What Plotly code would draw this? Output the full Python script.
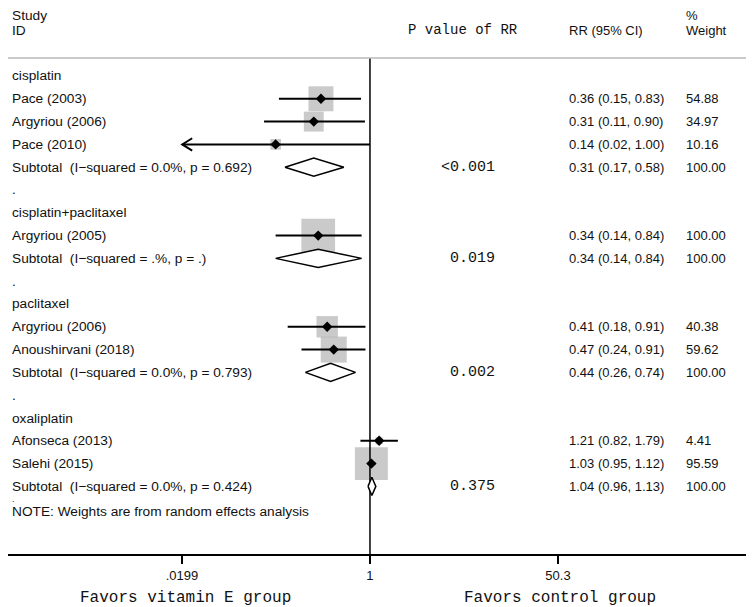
import math
import plotly.graph_objects as go

# rows of the forest plot, top to bottom
labels = ["cisplatin", "Pace (2003)", "Argyriou (2006)", "Pace (2010)",
          "Subtotal  (I\u2212squared = 0.0%, p = 0.692)", ".",
          "cisplatin+paclitaxel", "Argyriou (2005)",
          "Subtotal  (I\u2212squared = .%, p = .)", ".",
          "paclitaxel", "Argyriou (2006)", "Anoushirvani (2018)",
          "Subtotal  (I\u2212squared = 0.0%, p = 0.793)", ".",
          "oxaliplatin", "Afonseca (2013)", "Salehi (2015)",
          "Subtotal  (I\u2212squared = 0.0%, p = 0.424)"]
kind = ["group", "study", "study", "study", "sub", "blank",
        "group", "study", "sub", "blank",
        "group", "study", "study", "sub", "blank",
        "group", "study", "study", "sub"]
rr = [None, 0.36, 0.31, 0.14, 0.31, None, None, 0.34, 0.34, None,
      None, 0.41, 0.47, 0.44, None, None, 1.21, 1.03, 1.04]
lo = [None, 0.15, 0.11, 0.02, 0.17, None, None, 0.14, 0.14, None,
      None, 0.18, 0.24, 0.26, None, None, 0.82, 0.95, 0.96]
hi = [None, 0.83, 0.90, 1.00, 0.58, None, None, 0.84, 0.84, None,
      None, 0.91, 0.91, 0.74, None, None, 1.79, 1.12, 1.13]
weight = [None, 54.88, 34.97, 10.16, 100.00, None, None, 100.00, 100.00, None,
          None, 40.38, 59.62, 100.00, None, None, 4.41, 95.59, 100.00]
pval = {4: "<0.001", 8: "0.019", 13: "0.002", 18: "0.375"}
clipped = [3]  # CI runs past the left end of the scale
tick_vals = [0.0199, 1, 50.3]
tick_text = [".0199", "1", "50.3"]
note = "NOTE: Weights are from random effects analysis"

W, H = 754, 607
OFF = 8  # page body margin
sans = "Liberation Sans"
mono = "Liberation Mono"
TXT = "#111111"

fig = go.Figure()

studies = [i for i, k in enumerate(kind) if k == "study"]
subs = [i for i, k in enumerate(kind) if k == "sub"]

# weight boxes
fig.add_trace(go.Scatter(
    x=[rr[i] for i in studies], y=studies, mode="markers",
    marker=dict(symbol="square", color="#b4b4b4",
                size=[3.37 * math.sqrt(weight[i]) for i in studies],
                line=dict(width=0)),
    hoverinfo="skip"))

# null line
fig.add_trace(go.Scatter(x=[1, 1], y=[-0.79, 30], mode="lines",
                         line=dict(color="black", width=1.5), hoverinfo="skip"))

# CI lines
cx, cy = [], []
for i in studies:
    cx += [lo[i], hi[i], None]
    cy += [i, i, None]
for i in clipped:
    tip = lo[i]
    cx += [tip * 10 ** 0.09, tip, tip * 10 ** 0.09, None]
    cy += [i - 0.27, i, i + 0.27, None]
fig.add_trace(go.Scatter(x=cx, y=cy, mode="lines",
                         line=dict(color="black", width=2), hoverinfo="skip"))

# point estimates
fig.add_trace(go.Scatter(
    x=[rr[i] for i in studies], y=studies, mode="markers",
    marker=dict(symbol="diamond", color="black", size=8), hoverinfo="skip"))

# subtotal diamonds
for i in subs:
    fig.add_trace(go.Scatter(
        x=[lo[i], rr[i], hi[i], rr[i], lo[i]],
        y=[i, i - 0.4, i, i + 0.4, i],
        mode="lines", fill="toself", fillcolor="white",
        line=dict(color="black", width=1.5), hoverinfo="skip"))

ann = []


def put(text, px, y, font, size, anchor="left", yref="y", yanchor="middle"):
    ann.append(dict(text=text, x=(px - OFF) / W, xref="paper", y=y, yref=yref,
                    xanchor=anchor, yanchor=yanchor, showarrow=False,
                    font=dict(family=font, size=size, color=TXT)))


LS = 13.7
put("Study", 10, 1.003, sans, LS, yref="paper", yanchor="top")
put("ID", 10, -2, sans, LS)
put("P value of RR", 463, -2, mono, 14, "center")
put("RR (95% CI)", 567, -2, sans, 13)
put("%", 684, 1.003, sans, 13, yref="paper", yanchor="top")
put("Weight", 684, -2, sans, 13)

for i, lab in enumerate(labels):
    put(lab, 10, i, sans, LS)
    if rr[i] is not None:
        put(f"{rr[i]:.2f} ({lo[i]:.2f}, {hi[i]:.2f})", 567, i, sans, 13)
        put(f"{weight[i]:.2f}", 684, i, sans, 13)
    if i in pval:
        put(pval[i], 497, i, mono, 15, "right")

put(".", 10, 18.55, sans, 9)
put(note, 10, 19.12, sans, LS)

put("Favors vitamin E group", 185, -0.0806, mono, 16, "center", "paper")
put("Favors control group", 560, -0.0806, mono, 16, "center", "paper")

fig.update_layout(
    width=W, height=H, showlegend=False,
    paper_bgcolor="white", plot_bgcolor="white",
    margin=dict(l=0, r=0, t=0, b=61),
    annotations=ann,
    shapes=[dict(type="line", xref="paper", x0=0, x1=1, yref="y",
                 y0=-0.79, y1=-0.79, line=dict(color="#b8b8b8", width=1.5))],
    xaxis=dict(type="log", range=[-3.276, 3.548], showgrid=False, zeroline=False,
               showline=True, linecolor="black", linewidth=2,
               tickvals=tick_vals, ticktext=tick_text, ticks="outside",
               ticklen=8, tickwidth=1.5, tickcolor="black",
               tickfont=dict(family=sans, size=13, color=TXT)),
    yaxis=dict(range=[20.965, -2.982], visible=False, fixedrange=True),
)

fig.write_html("out.html")
